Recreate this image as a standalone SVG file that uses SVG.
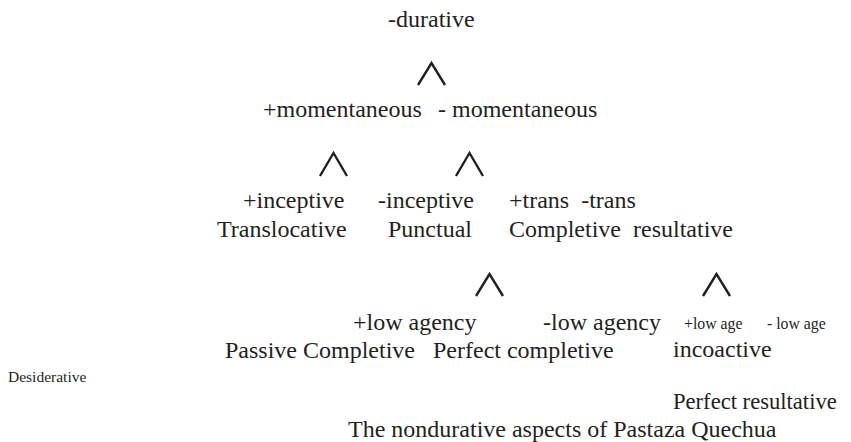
<svg xmlns="http://www.w3.org/2000/svg" width="851" height="442" viewBox="0 0 851 442">
<style>
text{font-family:"Liberation Serif","Times New Roman",serif;fill:#231f20;font-size:24px}
.s{font-size:15.8px}
.d{font-size:15.5px}
.c{fill:none;stroke:#231f20;stroke-width:2.4;stroke-linejoin:miter}
</style>
<rect width="851" height="442" fill="#fff"/>
<g id="connectors">
<polyline class="c" points="418,85 431.5,63 445,85"/>
<polyline class="c" points="320,176 333.5,153 347,176"/>
<polyline class="c" points="456,176 469.5,153 483,176"/>
<polyline class="c" points="476,296 489.5,274 503,296"/>
<polyline class="c" points="703,296 716.5,274 730,296"/>
</g>
<g id="n-durative"><text x="388" y="27">-durative</text></g>
<g id="n-pmom"><text x="263" y="117">+momentaneous</text></g>
<g id="n-mmom"><text x="438" y="117">- momentaneous</text></g>
<g id="n-pinc"><text x="243" y="208">+inceptive</text><text x="217" y="237">Translocative</text></g>
<g id="n-minc"><text x="378" y="208">-inceptive</text><text x="388" y="237">Punctual</text></g>
<g id="n-trans"><text x="509" y="208" xml:space="preserve">+trans  -trans</text><text x="509" y="237" xml:space="preserve">Completive  resultative</text></g>
<g id="n-plow"><text x="353" y="330">+low agency</text><text x="225" y="358">Passive Completive</text></g>
<g id="n-mlow"><text x="543" y="330">-low agency</text><text x="433" y="358">Perfect completive</text></g>
<g id="n-plowage"><text class="s" x="684" y="329">+low age</text><text x="673" y="357">incoactive</text></g>
<g id="n-mlowage"><text class="s" x="767" y="329">- low age</text></g>
<g id="n-desid"><text class="d" x="8" y="382">Desiderative</text></g>
<g id="n-perfres"><text x="673" y="409" style="font-size:22.6px">Perfect resultative</text></g>
<g id="title"><text x="348" y="437">The nondurative aspects of Pastaza Quechua</text></g>
</svg>
